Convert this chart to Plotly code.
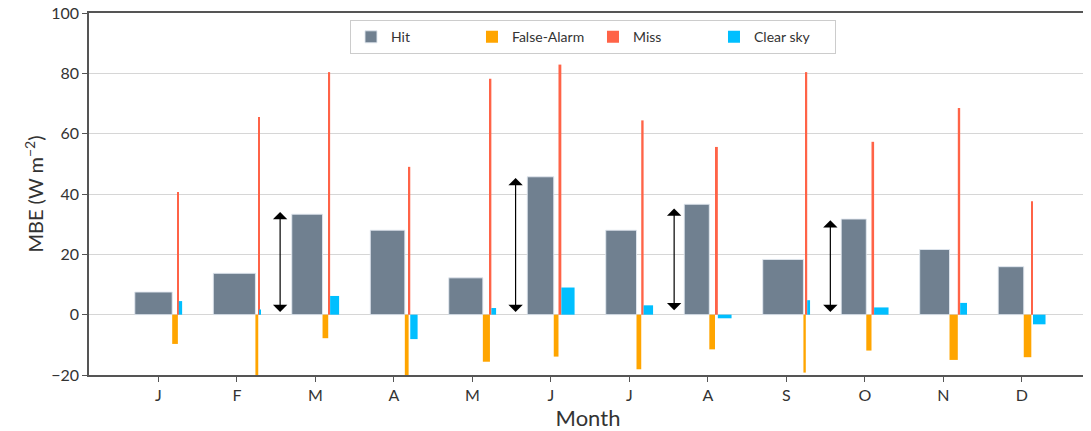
import plotly.graph_objects as go

months = ["J", "F", "M", "A", "M", "J", "J", "A", "S", "O", "N", "D"]

# MBE values (W m-2)
hit = [7.5, 13.7, 33.3, 28.0, 12.2, 45.7, 28.0, 36.6, 18.3, 31.7, 21.6, 15.9]
false_alarm = [-9.7, -25.0, -7.8, -22.0, -15.6, -13.9, -18.1, -11.5, -19.2, -11.9, -15.0, -14.1]
miss = [40.7, 65.5, 80.4, 49.0, 78.2, 82.9, 64.4, 55.6, 80.4, 57.3, 68.5, 37.6]
clear_sky = [4.5, 1.7, 6.2, -8.1, 2.2, 9.0, 3.1, -1.2, 4.8, 2.4, 3.9, -3.2]

# relative frequency (%) of each category per month -> bar widths
freq_hit = [79, 89, 65, 73, 72, 56, 65, 53, 86, 53, 63, 54]
freq_fa = [12, 6, 12, 8, 15, 10, 10, 12, 5, 11, 17.5, 16]
freq_miss = [2, 2.5, 4, 3.5, 3, 6, 5, 6, 3, 5.5, 5, 3.5]
freq_clear = [7, 2.5, 19, 15.5, 10, 28, 20, 29, 6, 30.5, 14.5, 26.5]

# double-headed arrows (x position, top value, bottom value)
arrow_x = [1.55, 4.55, 6.57, 8.56]
arrow_top = [34.0, 45.3, 35.2, 31.3]
arrow_bottom = [0.4, 0.4, 1.0, 0.4]

GROUP_WIDTH = 0.603
idx = list(range(len(months)))

series = [
    ("Hit", hit, freq_hit, "#708090"),
    ("False-Alarm", false_alarm, freq_fa, "#FFA500"),
    ("Miss", miss, freq_miss, "#FF6347"),
    ("Clear sky", clear_sky, freq_clear, "#00BFFF"),
]

totals = [sum(v) for v in zip(freq_hit, freq_fa, freq_miss, freq_clear)]
cum = [0.0] * len(months)

fig = go.Figure()
for name, vals, freq, color in series:
    widths = [GROUP_WIDTH * f / t for f, t in zip(freq, totals)]
    offsets = [-GROUP_WIDTH / 2 + c for c in cum]
    cum = [c + w for c, w in zip(cum, widths)]
    fig.add_trace(go.Bar(
        x=idx, y=vals, width=widths, offset=offsets, name=name,
        marker=dict(color=color,
                    line=dict(width=1 if name == "Hit" else 0,
                              color="rgba(225,232,240,0.9)")),
    ))

for xa, yt, yb in zip(arrow_x, arrow_top, arrow_bottom):
    fig.add_annotation(x=xa, y=yt, ax=xa, ay=yb, xref="x", yref="y",
                       axref="x", ayref="y", text="", showarrow=True,
                       arrowhead=1, startarrowhead=1, arrowside="end+start",
                       arrowsize=2.0, startarrowsize=2.0, arrowwidth=1.2,
                       arrowcolor="black")

font_family = "Lato, 'DejaVu Sans', sans-serif"
fig.update_layout(
    width=1083, height=423,
    margin=dict(l=81, r=4, t=5, b=56),
    plot_bgcolor="white", paper_bgcolor="white",
    barmode="overlay",
    font=dict(family=font_family, color="#333333", size=15),
    legend=dict(orientation="h", x=0.505, xanchor="center", y=0.98, yanchor="top",
                bordercolor="#cccccc", borderwidth=1, bgcolor="white",
                font=dict(size=14, color="#333333"), entrywidth=76),
    xaxis=dict(tickmode="array", tickvals=idx, ticktext=months,
               range=[-0.885, 11.83], showgrid=False, automargin=False,
               ticks="outside", ticklen=5, tickcolor="#555555",
               showline=True, linecolor="#555555", linewidth=1.5, mirror=True,
               tickfont=dict(size=16),
               title=dict(text="Month", font=dict(size=22), standoff=9)),
    yaxis=dict(range=[-20, 100], tickvals=[-20, 0, 20, 40, 60, 80, 100],
               showgrid=True, gridcolor="#d6d6d6", gridwidth=1, zeroline=False,
               automargin=False, ticklabeloverflow="allow",
               ticks="outside", ticklen=5, tickcolor="#555555",
               showline=True, linecolor="#555555", linewidth=1.5, mirror=True,
               tickfont=dict(size=16),
               title=dict(text="MBE (W m<sup>−2</sup>)", font=dict(size=20), standoff=2)),
)

fig.write_html("out.html")
